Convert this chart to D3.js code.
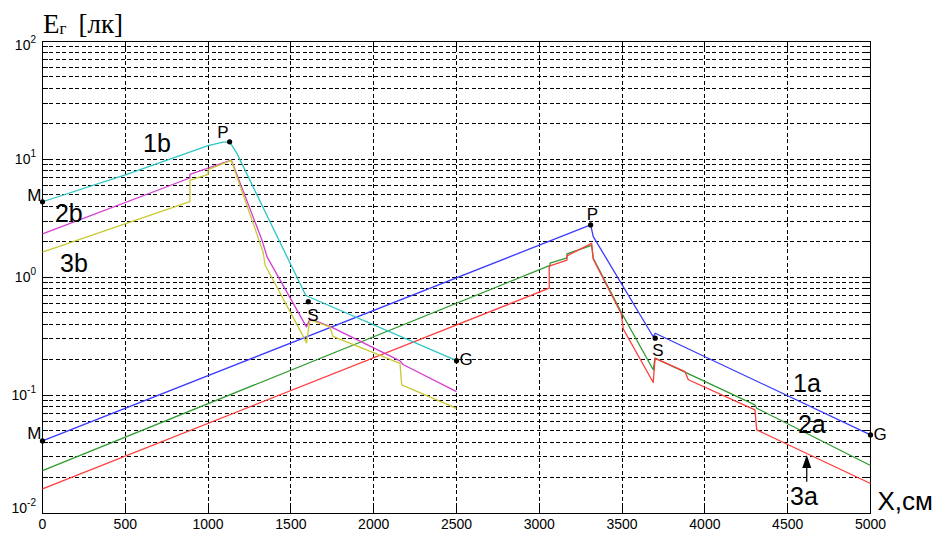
<!DOCTYPE html>
<html>
<head>
<meta charset="utf-8">
<script src="https://cdn.jsdelivr.net/npm/d3@7"></script>
<style>
  html, body { margin: 0; padding: 0; background: #fff; }
  svg { display: block; }
  text { font-family: "Liberation Sans", Arial, sans-serif; fill: #000; }
</style>
</head>
<body>
<svg id="chart" width="942" height="533"></svg>
<script>
// Distance along the route, cm
const xTicks = [0, 500, 1000, 1500, 2000, 2500, 3000, 3500, 4000, 4500, 5000];
// Decades of the illuminance axis (exponents of 10)
const yDecades = [-2, -1, 0, 1, 2];

// Route b (0 .. 2500 cm)
const x1b = [0, 500, 1000, 1090, 1130, 1173, 1590, 2500];
const e1b = [4.37, 7.38, 13.1, 14.0, 14.1, 11.3, 0.70, 0.196];

const x2b = [0, 890, 890, 1140, 1325, 1356, 1594, 1615, 1736, 2159, 2177, 2500];
const e2b = [2.33, 6.95, 7.45, 9.88, 2.07, 1.49, 0.379, 0.443, 0.383, 0.195, 0.182, 0.107];

const x3b = [0, 890, 890, 1000, 1000, 1140, 1332, 1344, 1573, 1594, 1615, 1736, 1754, 2159, 2169, 2500];
const e3b = [1.63, 4.38, 6.62, 7.45, 8.2, 9.79, 1.64, 1.27, 0.318, 0.277, 0.435, 0.38, 0.315, 0.186, 0.122, 0.0771];

// Route a (0 .. 5000 cm)
const x1a = [0, 3310, 3326, 3688, 3700, 5000];
const e1a = [0.0409, 2.78, 2.21, 0.313, 0.335, 0.046];

const x2a = [0, 3065, 3065, 3167, 3167, 3316, 3326, 3498, 3688, 3699, 4302, 4313, 5000];
const e2a = [0.0229, 1.26, 1.32, 1.46, 1.58, 1.86, 1.45, 0.495, 0.164, 0.206, 0.0826, 0.0774, 0.0253];

const x3a = [0, 3060, 3060, 3167, 3167, 3316, 3326, 3495, 3507, 3688, 3699, 3880, 3900, 4302, 4313, 5000];
const e3a = [0.016, 0.807, 1.24, 1.40, 1.52, 1.94, 1.42, 0.49, 0.364, 0.128, 0.205, 0.158, 0.135, 0.0749, 0.0507, 0.0178];

// Key points M, P, S, G of both routes
const pointNames = ["M", "P", "S", "G", "M", "P", "S", "G"];
const pointX = [0, 1130, 1605, 2500, 0, 3310, 3700, 5000];
const pointE = [4.37, 14.1, 0.62, 0.196, 0.0409, 2.78, 0.304, 0.046];

// Curve names
const curveNames = ["1b", "2b", "3b", "1a", "2a", "3a"];

const svg = d3.select("#chart");
const L = 42.5, R = 870.5, T = 41.5, B = 513;

const x = d3.scaleLinear().domain([0, 5000]).range([L, R]);
const y = d3.scaleLog().domain([0.01, 100]).range([B, T]);

// ---- grid ----
const grid = svg.append("g").attr("stroke", "#000").attr("stroke-width", 1)
  .attr("stroke-dasharray", "4,2.5").attr("shape-rendering", "crispEdges");

grid.selectAll("line.v").data(xTicks.slice(1, -1)).join("line")
  .attr("x1", d => x(d)).attr("x2", d => x(d)).attr("y1", T).attr("y2", B);

const minorVals = [];
yDecades.slice(0, -1).forEach(k => {
  for (let m = 1; m <= 9; m++) minorVals.push(m * Math.pow(10, k));
});
grid.selectAll("line.h").data(minorVals.slice(1)).join("line")
  .attr("x1", L).attr("x2", R).attr("y1", d => y(d)).attr("y2", d => y(d));

// ---- ticks (inward, on all four sides) ----
const ticks = svg.append("g").attr("stroke", "#000").attr("shape-rendering", "crispEdges");
xTicks.forEach(t => {
  ticks.append("line").attr("x1", x(t)).attr("x2", x(t)).attr("y1", B).attr("y2", B - 7);
  ticks.append("line").attr("x1", x(t)).attr("x2", x(t)).attr("y1", T).attr("y2", T + 7);
});
minorVals.concat([100]).forEach(v => {
  const major = Math.abs(Math.log10(v) - Math.round(Math.log10(v))) < 1e-9;
  const len = major ? 9 : 5;
  ticks.append("line").attr("x1", L).attr("x2", L + len).attr("y1", y(v)).attr("y2", y(v));
  ticks.append("line").attr("x1", R).attr("x2", R - len).attr("y1", y(v)).attr("y2", y(v));
});

// axis box
svg.append("rect").attr("x", L).attr("y", T).attr("width", R - L).attr("height", B - T)
  .attr("fill", "none").attr("stroke", "#000").attr("stroke-width", 1)
  .attr("shape-rendering", "crispEdges");

// ---- tick labels ----
svg.append("g").selectAll("text").data(xTicks).join("text")
  .attr("x", d => x(d)).attr("y", 529).attr("text-anchor", "middle")
  .attr("font-size", 14).text(d => d);

yDecades.forEach(k => {
  const base = Math.max(50, Math.min(513, y(Math.pow(10, k)) + 4.5));
  const t = svg.append("text").attr("x", 36).attr("y", base)
    .attr("text-anchor", "end").attr("font-size", 14);
  t.append("tspan").text("10");
  t.append("tspan").attr("dy", -7).attr("font-size", 10).text(k);
});

// ---- curves ----
const line = d3.line().x(d => x(d[0])).y(d => y(d[1]));
const curves = [
  [x1a, e1a, "#3a3aff"],
  [x2a, e2a, "#2f9a2f"],
  [x3a, e3a, "#ff3b3b"],
  [x1b, e1b, "#2cc6c6"],
  [x2b, e2b, "#d43cd4"],
  [x3b, e3b, "#c9c934"]
];
svg.append("g").selectAll("path").data(curves).join("path")
  .attr("d", c => line(d3.zip(c[0], c[1])))
  .attr("fill", "none").attr("stroke", c => c[2]).attr("stroke-width", 1.3)
  .attr("stroke-linejoin", "round");

// ---- key points ----
svg.append("g").selectAll("circle").data(d3.range(pointX.length)).join("circle")
  .attr("cx", i => x(pointX[i])).attr("cy", i => y(pointE[i])).attr("r", 2.6).attr("fill", "#000");

// label offsets (px) for M, P, S, G of each route
const pointLabelOffset = [[-1, -1, "end"], [-1, -4, "end"], [-1, 19, "start"], [3, 4, "start"],
                          [-1, -2, "end"], [-4, -5, "start"], [-3, 18, "start"], [3, 5, "start"]];
svg.append("g").selectAll("text").data(d3.range(pointX.length)).join("text")
  .attr("x", i => x(pointX[i]) + pointLabelOffset[i][0])
  .attr("y", i => y(pointE[i]) + pointLabelOffset[i][1])
  .attr("text-anchor", i => pointLabelOffset[i][2])
  .attr("font-size", 17).text(i => pointNames[i]);

// ---- curve names ----
const curveLabelAt = [[607, 11.6], [75, 2.94], [106, 1.11], [4532, 0.106], [4562, 0.0478], [4514, 0.0117]];
svg.append("g").selectAll("text").data(curveNames).join("text")
  .attr("x", (d, i) => x(curveLabelAt[i][0])).attr("y", (d, i) => y(curveLabelAt[i][1]))
  .attr("font-size", 25).text(d => d);

// arrow pointing at curve 3a
const ax = x(4615), aTail = y(0.0184), aTip = y(0.0311);
svg.append("line").attr("x1", ax).attr("x2", ax).attr("y1", aTail).attr("y2", aTip + 10)
  .attr("stroke", "#000").attr("stroke-width", 1.2);
svg.append("path")
  .attr("d", `M${ax},${aTip} L${ax - 4.5},${aTip + 13} L${ax + 4.5},${aTip + 13} Z`)
  .attr("fill", "#000");

// ---- axis titles ----
svg.append("text").attr("x", R + 7).attr("y", 510).attr("font-size", 26).text("X,см");

const yt = svg.append("text").attr("x", 43).attr("y", 33)
  .style("font-family", "'Liberation Serif', 'Times New Roman', serif").attr("font-size", 27);
yt.append("tspan").text("E");
yt.append("tspan").attr("font-size", 17).attr("dy", 1).text("г");
yt.append("tspan").attr("dy", -1).attr("dx", 12).text("[лк]");
</script>
</body>
</html>
